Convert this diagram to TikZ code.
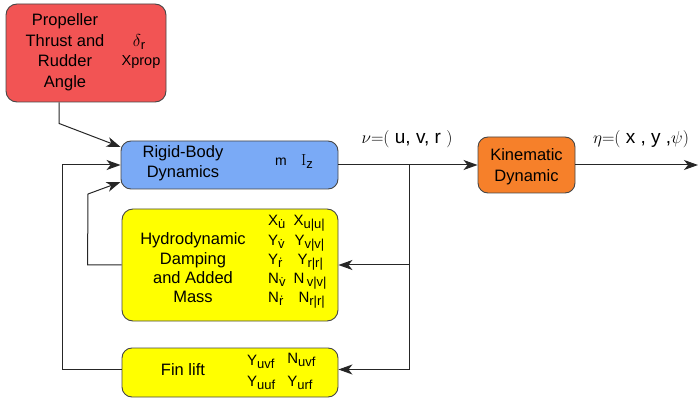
\documentclass[tikz,border=0pt]{standalone}
\usepackage{fontspec}
\setmainfont{Liberation Sans}
\usetikzlibrary{arrows.meta}

\definecolor{propred}{RGB}{242,84,84}
\definecolor{rigidblue}{RGB}{122,170,246}
\definecolor{kinorange}{RGB}{246,128,42}
\definecolor{hydroyellow}{RGB}{255,255,0}
\definecolor{edgegray}{RGB}{70,70,70}

% dotted letter used in the added-mass subscripts (combining dot above)
\newcommand{\dotted}[1]{#1^^^^0307}
% lowered subscript that does not widen the line spacing
\newcommand{\lowsub}[1]{\raisebox{-3pt}[0pt][0pt]{\fontsize{13}{13}\selectfont #1}}

\tikzset{
  block/.style={draw=edgegray, line width=0.9pt, rounded corners=11pt, inner sep=0pt},
  label text/.style={font=\fontsize{16.5}{19.5}\selectfont, align=center, inner sep=0pt},
  coef/.style={font=\fontsize{15}{19.3}\selectfont, inner sep=0pt, anchor=north west},
  link/.style={draw=black!85, line width=1pt},
  flow/.style={link, -{Stealth[length=14pt, width=10pt, inset=4pt]}},
  mathlabel/.style={font=\fontsize{19}{22}\selectfont, inner sep=0pt}
}

\begin{document}
\begin{tikzpicture}[x=1pt, y=-1pt]
\useasboundingbox (0,0) rectangle (699,398);

% blocks
\node[block, fill=propred, minimum width=160pt, minimum height=98pt] (prop) at (86,53) {};
\node[block, fill=rigidblue, minimum width=217pt, minimum height=48pt, rounded corners=10pt] (rigid) at (229.5,165) {};
\node[block, fill=kinorange, minimum width=97pt, minimum height=56pt, rounded corners=10pt] (kin) at (526.5,165) {};
\node[block, fill=hydroyellow, minimum width=216pt, minimum height=112pt] (hydro) at (230,265) {};
\node[block, fill=hydroyellow, minimum width=216pt, minimum height=49pt, rounded corners=10pt] (fin) at (230,372.5) {};

% propeller block text
\node[label text, font=\fontsize{16.5}{20.5}\selectfont] (proptxt) at (65,52) {Propeller\\Thrust and\\Rudder\\Angle};
\node[inner sep=0pt, font=\fontsize{17}{17}\selectfont] (delta) at (139,41) {$\delta$\lowsub{r}};
\node[inner sep=0pt, font=\fontsize{14.5}{15}\selectfont] (xprop) at (141,62) {Xprop};

% rigid-body block text
\node[label text] (rigidtxt) at (183,163) {Rigid-Body\\Dynamics};
\node[inner sep=0pt, font=\fontsize{14}{14}\selectfont] (mass) at (281,162) {m};
\node[inner sep=0pt, font=\fontsize{16}{16}\selectfont] (inertia) at (307,160) {{\fontspec{Latin Modern Roman}I}\lowsub{z}};

% kinematic block text
\node[label text, font=\fontsize{16.5}{21}\selectfont] (kintxt) at (526.5,167) {Kinematic\\Dynamic};

% hydrodynamic block text
\node[label text, font=\fontsize{16.5}{19.3}\selectfont] (hydrotxt) at (193,268) {Hydrodynamic\\Damping\\and Added\\Mass};
\node[coef] (hcoef) at (268,212) {%
  \begin{tabular}{@{}l@{\hspace{8pt}}l@{}}
    X\lowsub{\dotted{u}} & X\lowsub{u|u|}\\
    Y\lowsub{\dotted{v}} & \hspace{1pt}Y\lowsub{v|v|}\\
    Y\lowsub{\dotted{r}} & \hspace{4pt}Y\lowsub{r|r|}\\
    N\lowsub{\dotted{v}} & N\,\lowsub{v|v|}\\
    N\lowsub{\dotted{r}} & \hspace{5pt}N\lowsub{r|r|}
  \end{tabular}};

% fin lift block text
\node[label text] (fintxt) at (183,370) {Fin lift};
\node[coef, font=\fontsize{15}{21}\selectfont] (fcoef) at (247,351) {%
  \begin{tabular}{@{}l@{\hspace{12pt}}l@{}}
    Y\lowsub{uvf} & \raisebox{2pt}{N\lowsub{uvf}}\\
    Y\lowsub{uuf} & Y\lowsub{urf}
  \end{tabular}};

% state labels
\node[mathlabel] (nulabel) at (407,139) {$\nu{=}($ u, v, r $)$};
\node[mathlabel] (etalabel) at (641,139) {$\eta{=}($ x , y ,$\psi)$};

% connectors
\coordinate (branch) at (409,165);
\coordinate (out) at (698,165);
\draw[flow] ([xshift=-27pt]prop.south) -- ++(0,21) -- ([yshift=18pt]rigid.west);
\draw[flow] ([yshift=3pt]fin.west) -- ++(-59,0) |- (rigid.west);
\draw[flow] (hydro.west) -- ++(-34,0) -- (88,194) -- ([yshift=-17pt]rigid.west);
\draw[flow] (rigid.east) -- (kin.west);
\draw[flow] (branch) |- (hydro.east);
\draw[flow] (branch) |- ([yshift=3pt]fin.east);
\draw[flow] (kin.east) -- (out);
\end{tikzpicture}
\end{document}
